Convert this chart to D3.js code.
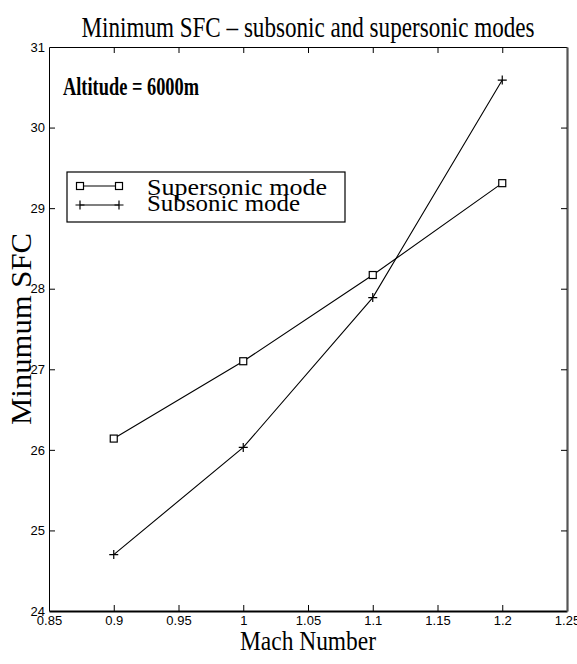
<!DOCTYPE html>
<html lang="en">

<head>
    <meta charset="UTF-8">
    <title>Minimum SFC</title>
    <script src="https://d3js.org/d3.v7.min.js"></script>
    <style>
        body {
            margin: 0;
            background: white;
        }

        svg {
            display: block;
        }

        .tick text {
            font-family: "Liberation Sans Narrow", "Arial Narrow", "Liberation Sans", sans-serif;
            font-size: 13px;
        }

        .serif {
            font-family: "Liberation Serif", "Times New Roman", serif;
        }
    </style>
</head>

<body>
    <script>
        // data
        const mach = [0.9, 1.0, 1.1, 1.2];
        const supersonic = [26.14, 27.10, 28.17, 29.31];
        const subsonic = [24.70, 26.03, 27.89, 30.59];
        const xTicks = [0.85, 0.9, 0.95, 1, 1.05, 1.1, 1.15, 1.2, 1.25];
        const xTickLabels = ["0.85", "0.9", "0.95", "1", "1.05", "1.1", "1.15", "1.2", "1.25"];
        const yTicks = [24, 25, 26, 27, 28, 29, 30, 31];
        const seriesNames = ["Supersonic mode", "Subsonic mode"];

        const width = 577
        const height = 664
        const mLeft = 49, mRight = 567, mTop = 47, mBottom = 611;

        let svg = d3.select("body").append("svg")
            .attr("width", width)
            .attr("height", height);

        let x = d3.scaleLinear().domain([0.85, 1.25]).range([mLeft, mRight]);
        let y = d3.scaleLinear().domain([24, 31]).range([mBottom, mTop]);

        // axes, ticks point inward like matlab
        let xAxis = svg.append("g")
            .attr("transform", `translate(0,${mBottom})`)
            .call(d3.axisBottom(x).tickValues(xTicks)
                .tickFormat((d, i) => xTickLabels[i])
                .tickSizeInner(-6).tickSizeOuter(0).tickPadding(5));
        xAxis.select(".domain").attr("stroke-width", 2.2);

        let xTop = svg.append("g")
            .attr("transform", `translate(0,${mTop})`)
            .call(d3.axisTop(x).tickValues(xTicks).tickFormat("")
                .tickSizeInner(-6).tickSizeOuter(0));

        let yAxis = svg.append("g")
            .attr("transform", `translate(${mLeft},0)`)
            .call(d3.axisLeft(y).tickValues(yTicks).tickFormat(d3.format("d"))
                .tickSizeInner(-6).tickSizeOuter(0).tickPadding(4));

        let yRight = svg.append("g")
            .attr("transform", `translate(${mRight},0)`)
            .call(d3.axisRight(y).tickValues(yTicks).tickFormat("")
                .tickSizeInner(-6).tickSizeOuter(0));
        yRight.select(".domain").attr("stroke", "#555").attr("stroke-width", 2.2);

        // hide end ticks that sit on the frame
        svg.selectAll(".tick line").filter(d => d === 0.85 || d === 1.25 || d === 24 || d === 31).remove();

        // lines
        let line = d3.line().x((d, i) => x(mach[i])).y(d => y(d));

        svg.append("path").datum(supersonic)
            .attr("d", line).attr("fill", "none").attr("stroke", "black").attr("stroke-width", 1.1);
        svg.append("path").datum(subsonic)
            .attr("d", line).attr("fill", "none").attr("stroke", "black").attr("stroke-width", 1.1);

        function square(g, cx, cy) {
            g.append("rect").attr("x", cx - 3.5).attr("y", cy - 3.5)
                .attr("width", 7).attr("height", 7)
                .attr("fill", "white").attr("stroke", "black").attr("stroke-width", 1.2);
        }
        function plus(g, cx, cy) {
            g.append("path").attr("d", `M${cx - 4.5},${cy}H${cx + 4.5}M${cx},${cy - 4.5}V${cy + 4.5}`)
                .attr("stroke", "black").attr("stroke-width", 1.2);
        }

        let marks = svg.append("g");
        supersonic.forEach((v, i) => square(marks, x(mach[i]), y(v)));
        subsonic.forEach((v, i) => plus(marks, x(mach[i]), y(v)));

        // title and labels
        svg.append("text").attr("class", "serif")
            .attr("x", (mLeft + mRight) / 2).attr("y", 37)
            .attr("text-anchor", "middle").attr("font-size", 29)
            .attr("textLength", 453).attr("lengthAdjust", "spacingAndGlyphs")
            .text("Minimum SFC \u2013 subsonic and supersonic modes");

        svg.append("text").attr("class", "serif")
            .attr("x", (mLeft + mRight) / 2).attr("y", 650)
            .attr("text-anchor", "middle").attr("font-size", 27)
            .attr("textLength", 136).attr("lengthAdjust", "spacingAndGlyphs")
            .text("Mach Number");

        svg.append("text").attr("class", "serif")
            .attr("transform", `translate(31,${(mTop + mBottom) / 2}) rotate(-90)`)
            .attr("text-anchor", "middle").attr("font-size", 30)
            .attr("textLength", 192).attr("lengthAdjust", "spacingAndGlyphs")
            .text("Minumum SFC");

        svg.append("text").attr("class", "serif")
            .attr("x", 63).attr("y", 95)
            .attr("font-size", 25).attr("font-weight", "bold")
            .attr("textLength", 136).attr("lengthAdjust", "spacingAndGlyphs")
            .text("Altitude = 6000m");

        // legend
        let legend = svg.append("g");
        legend.append("rect").attr("x", 67).attr("y", 172)
            .attr("width", 278).attr("height", 50)
            .attr("fill", "white").attr("stroke", "black").attr("stroke-width", 1.2);

        let rowY = [186, 205];
        let textY = [195, 211];
        let textW = [180, 153];
        rowY.forEach((ry, i) => {
            legend.append("line").attr("x1", 80).attr("x2", 119).attr("y1", ry).attr("y2", ry)
                .attr("stroke", "black").attr("stroke-width", 1.1);
            if (i === 0) {
                square(legend, 80, ry);
                square(legend, 119, ry);
            } else {
                plus(legend, 80, ry);
                plus(legend, 119, ry);
            }
            legend.append("text").attr("class", "serif")
                .attr("x", 147).attr("y", textY[i])
                .attr("font-size", 24)
                .attr("textLength", textW[i]).attr("lengthAdjust", "spacingAndGlyphs")
                .text(seriesNames[i]);
        });
    </script>
</body>

</html>
